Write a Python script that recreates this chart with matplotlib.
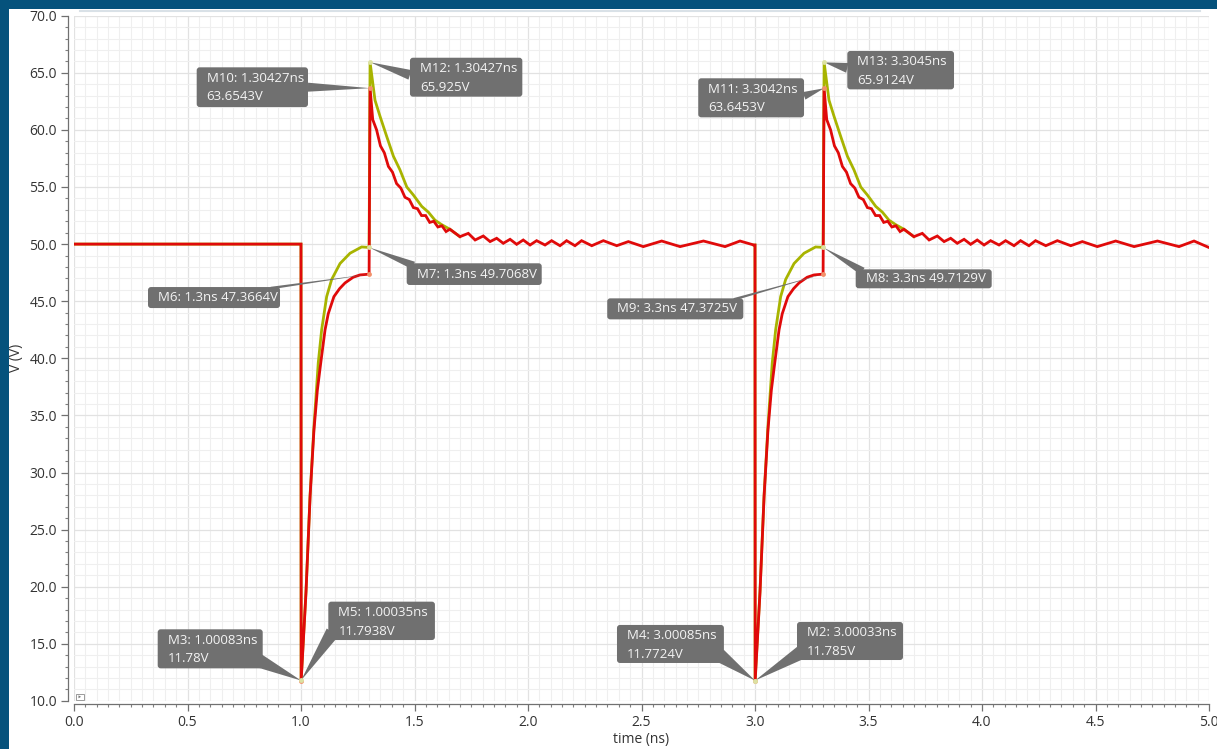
import matplotlib
matplotlib.use("Agg")
import matplotlib.pyplot as plt
from matplotlib.patches import FancyBboxPatch, Polygon, Rectangle
from matplotlib.transforms import IdentityTransform
from matplotlib.ticker import MultipleLocator, FormatStrFormatter

plt.rcParams['font.family'] = ['Open Sans', 'DejaVu Sans']

# ---------------------------------------------------------------- data
# Red trace: V(t) over the whole window
red_t = [0.0, 1.0, 1.00083, 1.022, 1.040, 1.057, 1.072, 1.087, 1.106, 1.120,
         1.145, 1.170, 1.194, 1.230, 1.260, 1.3, 1.30427,
         1.316, 1.333, 1.350, 1.367, 1.385, 1.403, 1.421, 1.440, 1.458, 1.477,
         1.495, 1.513, 1.531, 1.549, 1.567, 1.585, 1.603, 1.621, 1.639, 1.656,
         1.700, 1.737, 1.767, 1.803, 1.833, 1.862, 1.891, 1.921, 1.950, 1.979,
         2.009, 2.038, 2.075, 2.104, 2.141, 2.170, 2.207, 2.236, 2.281, 2.332,
         2.391, 2.442, 2.508, 2.589, 2.670, 2.773, 2.868, 2.934, 2.995,
         3.0, 3.00085, 3.022, 3.040, 3.057, 3.072, 3.087, 3.106, 3.120,
         3.145, 3.170, 3.194, 3.230, 3.260, 3.3, 3.3042,
         3.316, 3.333, 3.350, 3.367, 3.385, 3.403, 3.421, 3.440, 3.458, 3.477,
         3.495, 3.513, 3.531, 3.549, 3.567, 3.585, 3.603, 3.621, 3.639, 3.656,
         3.700, 3.737, 3.767, 3.803, 3.833, 3.862, 3.891, 3.921, 3.950, 3.979,
         4.009, 4.038, 4.075, 4.104, 4.141, 4.170, 4.207, 4.236, 4.281, 4.332,
         4.391, 4.442, 4.508, 4.589, 4.670, 4.773, 4.868, 4.934, 5.0]
red_v = [50.0, 50.0, 11.78, 19.5, 27.9, 33.7, 37.2, 39.6, 42.5, 43.9,
         45.4, 46.1, 46.6, 47.1, 47.3, 47.3664, 63.6543,
         60.9, 60.0, 58.6, 58.0, 56.8, 56.3, 55.3, 54.9, 54.1, 53.9,
         53.2, 53.1, 52.5, 52.5, 51.9, 52.0, 51.5, 51.6, 51.1, 51.3,
         50.65, 50.94, 50.36, 50.71, 50.22, 50.51, 50.07, 50.42, 49.98, 50.36,
         49.92, 50.30, 49.92, 50.30, 49.86, 50.30, 49.86, 50.30, 49.86, 50.30,
         49.86, 50.22, 49.78, 50.27, 49.78, 50.27, 49.78, 50.27, 49.92,
         49.92, 11.7724, 19.5, 27.9, 33.7, 37.2, 39.6, 42.5, 43.9,
         45.4, 46.1, 46.6, 47.1, 47.3, 47.3725, 63.6453,
         60.9, 60.0, 58.6, 58.0, 56.8, 56.3, 55.3, 54.9, 54.1, 53.9,
         53.2, 53.1, 52.5, 52.5, 51.9, 52.0, 51.5, 51.6, 51.1, 51.3,
         50.65, 50.94, 50.36, 50.71, 50.22, 50.51, 50.07, 50.42, 49.98, 50.36,
         49.92, 50.30, 49.92, 50.30, 49.86, 50.30, 49.86, 50.30, 49.86, 50.30,
         49.86, 50.22, 49.78, 50.27, 49.78, 50.27, 49.78, 50.27, 49.70]

# Yellow-green trace around the two pulses (elsewhere it runs under the red one)
yel1_t = [0.0, 1.0, 1.00035, 1.022, 1.040, 1.057, 1.076, 1.091, 1.113, 1.135,
          1.172, 1.216, 1.267, 1.3, 1.30427, 1.326, 1.348, 1.378, 1.407, 1.436,
          1.466, 1.495, 1.532, 1.561, 1.590, 1.620, 1.656, 1.700]
yel1_v = [50.0, 50.0, 11.7938, 19.6, 28.0, 34.0, 39.6, 42.5, 45.4, 46.9,
          48.3, 49.2, 49.75, 49.7068, 65.925, 62.6, 61.2, 59.4, 57.7, 56.5,
          55.0, 54.3, 53.3, 52.8, 52.1, 51.7, 51.3, 50.65]
yel2_t = [2.995, 3.0, 3.00033, 3.022, 3.040, 3.057, 3.076, 3.091, 3.113, 3.135,
          3.172, 3.216, 3.267, 3.3, 3.3045, 3.326, 3.348, 3.378, 3.407, 3.436,
          3.466, 3.495, 3.532, 3.561, 3.590, 3.620, 3.656, 3.700]
yel2_v = [49.92, 49.92, 11.785, 19.6, 28.0, 34.0, 39.6, 42.5, 45.4, 46.9,
          48.3, 49.2, 49.75, 49.7129, 65.9124, 62.6, 61.2, 59.4, 57.7, 56.5,
          55.0, 54.3, 53.3, 52.8, 52.1, 51.7, 51.3, 50.65]

# Markers: name, time (ns), value (V), trace
mk_name = ['M3', 'M5', 'M6', 'M7', 'M10', 'M12',
           'M4', 'M2', 'M9', 'M8', 'M11', 'M13']
mk_t = [1.00083, 1.00035, 1.3, 1.3, 1.30427, 1.30427,
        3.00085, 3.00033, 3.3, 3.3, 3.3042, 3.3045]
mk_v = [11.78, 11.7938, 47.3664, 49.7068, 63.6543, 65.925,
        11.7724, 11.785, 47.3725, 49.7129, 63.6453, 65.9124]
mk_trace = ['red', 'yel', 'red', 'yel', 'red', 'yel',
            'red', 'yel', 'red', 'yel', 'red', 'yel']

# ---------------------------------------------------------------- layout
# label boxes in data units: (left t, top V, right t, bottom V), line count,
# attach point on the box (fractions of width/height), pointer half width (px)
box_geom = {
    'M10': ((0.5405, 65.48, 1.0308, 62.00), 2, (1.00, 0.50), 4.5),
    'M12': ((1.4800, 66.32, 1.9750, 62.91), 2, (0.00, 0.56), 5.0),
    'M7':  ((1.4656, 48.32, 2.0604, 46.42), 1, (0.05, 0.90), 4.0),
    'M6':  ((0.3260, 46.24, 0.9075, 44.40), 1, (0.93, 0.95), 1.3),
    'M11': ((2.7500, 64.52, 3.2160, 61.10), 2, (1.00, 0.55), 4.0),
    'M13': ((3.4066, 66.91, 3.8767, 63.55), 2, (0.00, 0.56), 5.0),
    'M8':  ((3.4436, 47.79, 4.0427, 46.13), 1, (0.05, 0.90), 4.0),
    'M9':  ((2.3490, 45.25, 2.9485, 43.41), 1, (0.93, 0.95), 1.3),
    'M3':  ((0.3687, 16.27, 0.8313, 12.85), 2, (0.96, 0.20), 7.0),
    'M5':  ((1.1203, 18.69, 1.5900, 15.33), 2, (0.04, 0.20), 7.0),
    'M4':  ((2.3920, 16.65, 2.8630, 13.32), 2, (0.96, 0.20), 7.0),
    'M2':  ((3.1850, 16.91, 3.6520, 13.58), 2, (0.04, 0.20), 7.0),
}

RED = '#E00A0A'
YEL = '#A8B400'
FRAME = '#05527C'
BOX = '#707070'
TXT = '#F4F4F4'

W, H = 1217, 749
fig = plt.figure(figsize=(W / 100, H / 100), dpi=100)
fig.patch.set_facecolor('white')

# blue frame along the top and left edge
fig.patches.append(Rectangle((0, 1 - 9 / H), 1, 9 / H, transform=fig.transFigure,
                             fc=FRAME, ec='none', zorder=0))
fig.patches.append(Rectangle((0, 0), 9 / W, 1, transform=fig.transFigure,
                             fc=FRAME, ec='none', zorder=0))
fig.lines.append(plt.Line2D([80 / W, 1200 / W], [1 - 11 / H, 1 - 11 / H],
                            transform=fig.transFigure, color='#D9E1E7', lw=1.5))

ax = fig.add_axes([74 / W, (H - 700.9) / H, 1135 / W, 685.2 / H])
ax.set_xlim(0, 5)
ax.set_ylim(10, 70)

for s in ('top', 'right'):
    ax.spines[s].set_visible(False)
ax.spines['left'].set_position(('outward', 4.3))
ax.spines['bottom'].set_position(('outward', 2.5))
for s in ('left', 'bottom'):
    ax.spines[s].set_color('#707070')
    ax.spines[s].set_linewidth(0.9)

ax.xaxis.set_major_locator(MultipleLocator(0.5))
ax.xaxis.set_minor_locator(MultipleLocator(0.05))
ax.yaxis.set_major_locator(MultipleLocator(5))
ax.yaxis.set_minor_locator(MultipleLocator(1))
ax.xaxis.set_major_formatter(FormatStrFormatter('%.1f'))
ax.yaxis.set_major_formatter(FormatStrFormatter('%.1f'))
ax.tick_params(which='major', length=5, width=0.9, color='#707070',
               labelsize=10, labelcolor='#333333', pad=3)
ax.tick_params(which='minor', length=2.5, width=0.8, color='#808080')
ax.grid(which='minor', color='#EFEFEF', lw=0.8)
ax.grid(which='major', color='#E2E2E2', lw=0.9)
ax.set_axisbelow(True)

ax.set_xlabel('time (ns)', fontsize=10, color='#333333', labelpad=1)
ax.set_ylabel('V (V)', fontsize=10, color='#333333')
ax.yaxis.set_label_coords((24 - 74) / 1135, 0.5)

# traces
ax.plot(yel1_t, yel1_v, color=YEL, lw=2.0, zorder=3, solid_joinstyle='miter')
ax.plot(yel2_t, yel2_v, color=YEL, lw=2.0, zorder=3, solid_joinstyle='miter')
ax.plot(red_t, red_v, color=RED, lw=2.0, zorder=4, solid_joinstyle='miter')

# marker callouts
ident = IdentityTransform()
for name, t, v, tr in zip(mk_name, mk_t, mk_v, mk_trace):
    (bl, bt, br, bb), nlines, (fx, fy), hw = box_geom[name]
    x0, y0 = ax.transData.transform((bl, bb))
    x1, y1 = ax.transData.transform((br, bt))
    px, py = ax.transData.transform((t, v))
    axp = x0 + fx * (x1 - x0)
    ayp = y0 + fy * (y1 - y0)
    dx, dy = px - axp, py - ayp
    L = (dx * dx + dy * dy) ** 0.5
    nx, ny = -dy / L, dx / L
    tri = Polygon([(px, py), (axp + nx * hw, ayp + ny * hw),
                   (axp - nx * hw, ayp - ny * hw)], closed=True,
                  transform=ident, fc=BOX, ec='none', zorder=6, clip_on=False)
    ax.add_patch(tri)
    box = FancyBboxPatch((x0, y0), x1 - x0, y1 - y0,
                         boxstyle='round,pad=0,rounding_size=3',
                         transform=ident, fc=BOX, ec='none', zorder=7, clip_on=False)
    ax.add_patch(box)
    ts = '%g' % t
    vs = '%g' % v
    if nlines == 2:
        ax.text(x0 + 10, y1 - 11, f'{name}: {ts}ns', transform=ident,
                color=TXT, fontsize=9.5, va='center', ha='left', zorder=8)
        ax.text(x0 + 10, y1 - 29.5, f'{vs}V', transform=ident,
                color=TXT, fontsize=9.5, va='center', ha='left', zorder=8)
    else:
        ax.text(x0 + 10, (y0 + y1) / 2, f'{name}: {ts}ns {vs}V', transform=ident,
                color=TXT, fontsize=9.5, va='center', ha='left', zorder=8)
    dot_c = '#F2906A' if tr == 'red' else '#DCE1A2'
    ax.plot([t], [v], 'o', ms=3.5, color=dot_c, mec='none', zorder=9, clip_on=False)

# small toggle icon at the lower left corner of the plot area
ax.add_patch(Rectangle((75.5, H - 699.5), 8, 5.5, transform=ident, fc='white',
                       ec='#9A9A9A', lw=0.7, zorder=9, clip_on=False))
ax.add_patch(Polygon([(78.5, H - 698.3), (78.5, H - 695.3), (81, H - 696.8)],
                     transform=ident, fc='#777777', ec='none', zorder=10, clip_on=False))

fig.savefig('out.png', dpi=100)
